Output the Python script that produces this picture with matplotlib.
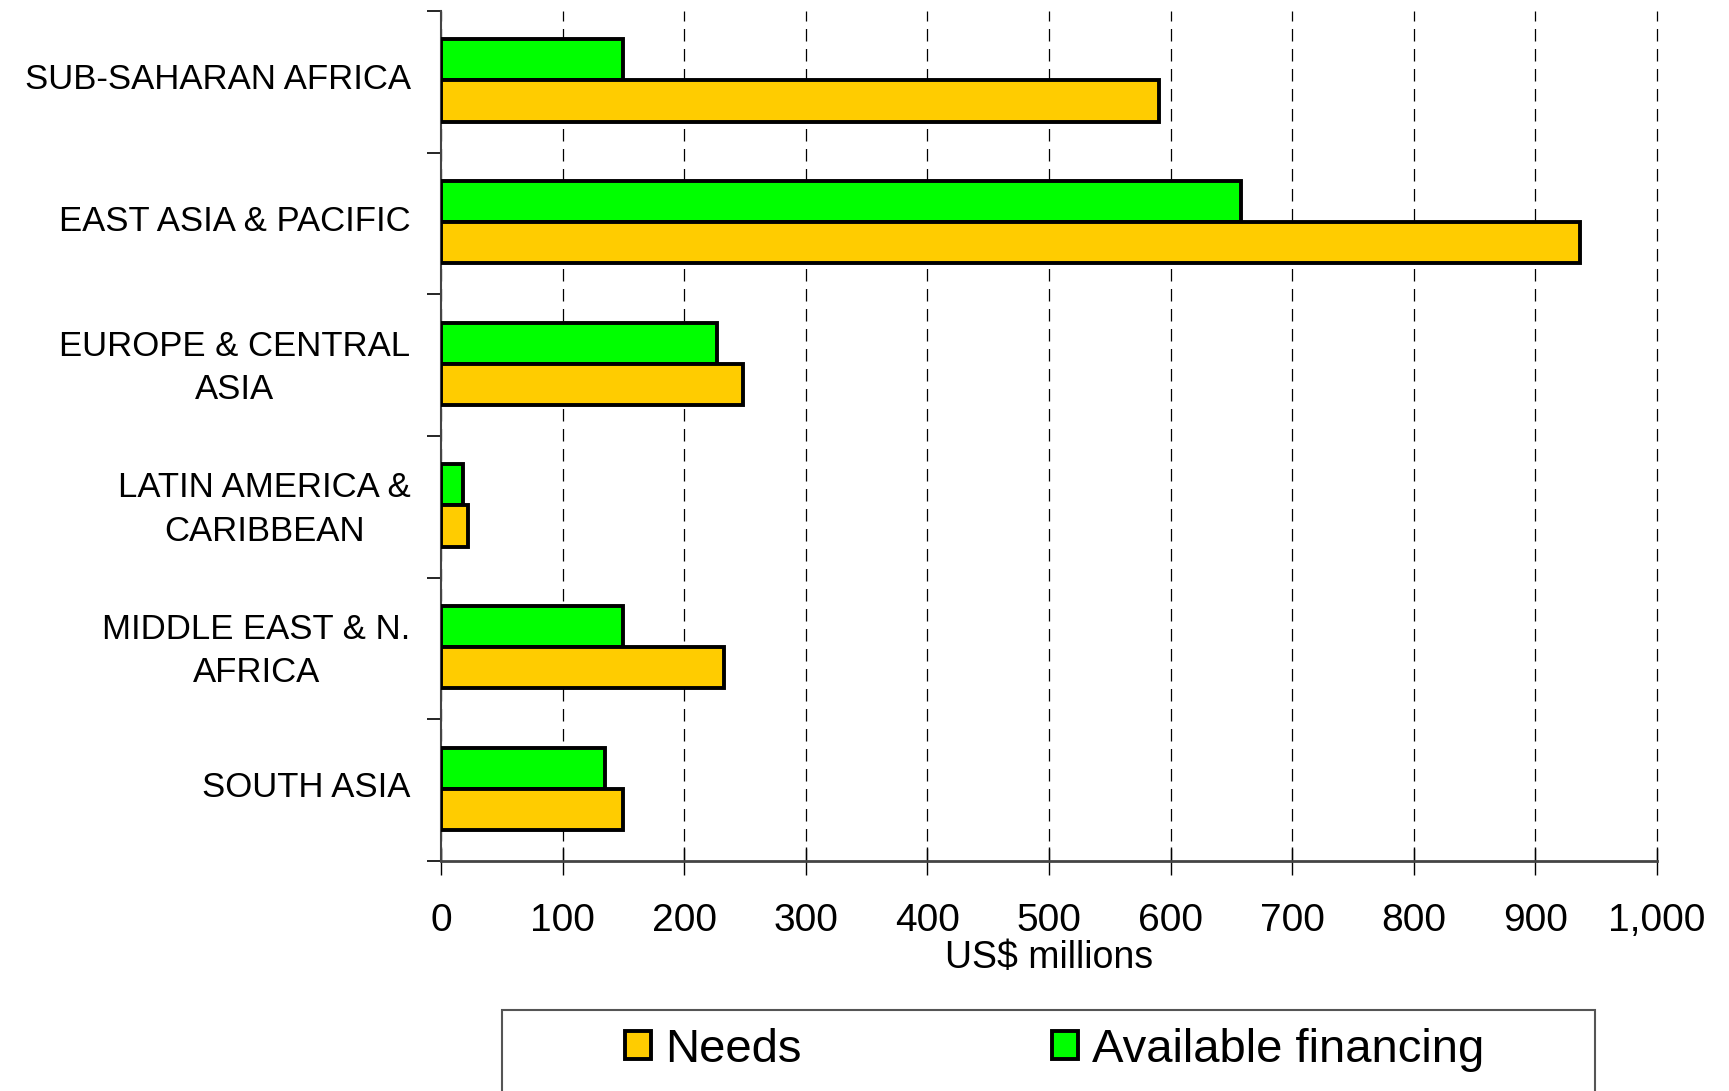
#!/usr/bin/env python3
"""
Horizontal grouped bar chart: needs vs available financing by region
"""

import matplotlib
matplotlib.use('Agg')
import matplotlib.pyplot as plt
import matplotlib.ticker as mticker
import matplotlib.transforms as mtransforms
from matplotlib.patches import Rectangle
import numpy as np

plt.rcParams['font.family'] = ['Liberation Sans', 'DejaVu Sans']

# Data (US$ millions)
regions = [
    'SUB-SAHARAN AFRICA',
    'EAST ASIA & PACIFIC',
    'EUROPE & CENTRAL\nASIA',
    'LATIN AMERICA &\nCARIBBEAN',
    'MIDDLE EAST & N.\nAFRICA',
    'SOUTH ASIA',
]
available = [150, 658, 227, 18, 150, 135]
needs = [590, 937, 248, 22, 233, 150]
x_ticks = [0, 100, 200, 300, 400, 500, 600, 700, 800, 900, 1000]

YELLOW = '#FFCC00'
GREEN = '#00FF00'

fig = plt.figure(figsize=(17.29, 10.91), dpi=100)
ax = fig.add_axes([0.2551, 0.2108, 0.9584 - 0.2551, 0.9899 - 0.2108])

y = np.arange(len(regions))
h = 0.29
shift = -0.01

ax.barh(y + shift - h / 2, available, height=h, color=GREEN,
        edgecolor='black', linewidth=2.8, zorder=3, label='Available financing')
ax.barh(y + shift + h / 2, needs, height=h, color=YELLOW,
        edgecolor='black', linewidth=2.8, zorder=3, label='Needs')

ax.set_xlim(0, 1000)
ax.set_ylim(len(regions) - 0.5, -0.5)

# x axis
ax.set_xticks(x_ticks)
ax.xaxis.set_major_formatter(mticker.FuncFormatter(lambda v, p: f'{int(v):,}'))
ax.tick_params(axis='x', direction='inout', length=20, width=1, labelsize=28, pad=20)
ax.set_xlabel('US$ millions', fontsize=27, labelpad=1)
ax.xaxis.grid(True, color='black', linestyle=(0, (10, 6)), linewidth=0.9, zorder=0)
for gl in ax.get_xgridlines():
    gl.set_clip_on(False)

# y axis: labels at centres, tick marks at boundaries
ax.set_yticks(y)
ax.set_yticklabels(regions, fontsize=25, ha='right', multialignment='center',
                   linespacing=1.4)
ax.tick_params(axis='y', which='major', length=0, pad=22)
ax.set_yticks(np.arange(len(regions) + 1) - 0.5, minor=True)
ax.tick_params(axis='y', which='minor', direction='out', length=10, width=1.2)
nudge = mtransforms.ScaledTranslation(0, 6 / 100, fig.dpi_scale_trans)
for lbl in ax.get_yticklabels():
    lbl.set_transform(lbl.get_transform() + nudge)

ax.spines['top'].set_visible(False)
ax.spines['right'].set_visible(False)
ax.spines['left'].set_color('#444444')
ax.spines['left'].set_linewidth(1.5)
ax.spines['bottom'].set_color('#444444')
ax.spines['bottom'].set_linewidth(2)

# legend box at the bottom
fig.patches.append(Rectangle((0.2903, -0.05), 0.9225 - 0.2903, 0.0742 + 0.05,
                             transform=fig.transFigure, facecolor='white',
                             edgecolor='#555555', linewidth=1.5))
handles, labels = ax.get_legend_handles_labels()
leg = fig.legend(handles[::-1], labels[::-1], loc='center', ncol=2,
                 bbox_to_anchor=(0.610, 0.0376), frameon=False, fontsize=34,
                 handlelength=0.55, handleheight=0.55, handletextpad=0.3,
                 columnspacing=5.3)

fig.savefig('out.png', dpi=100)
